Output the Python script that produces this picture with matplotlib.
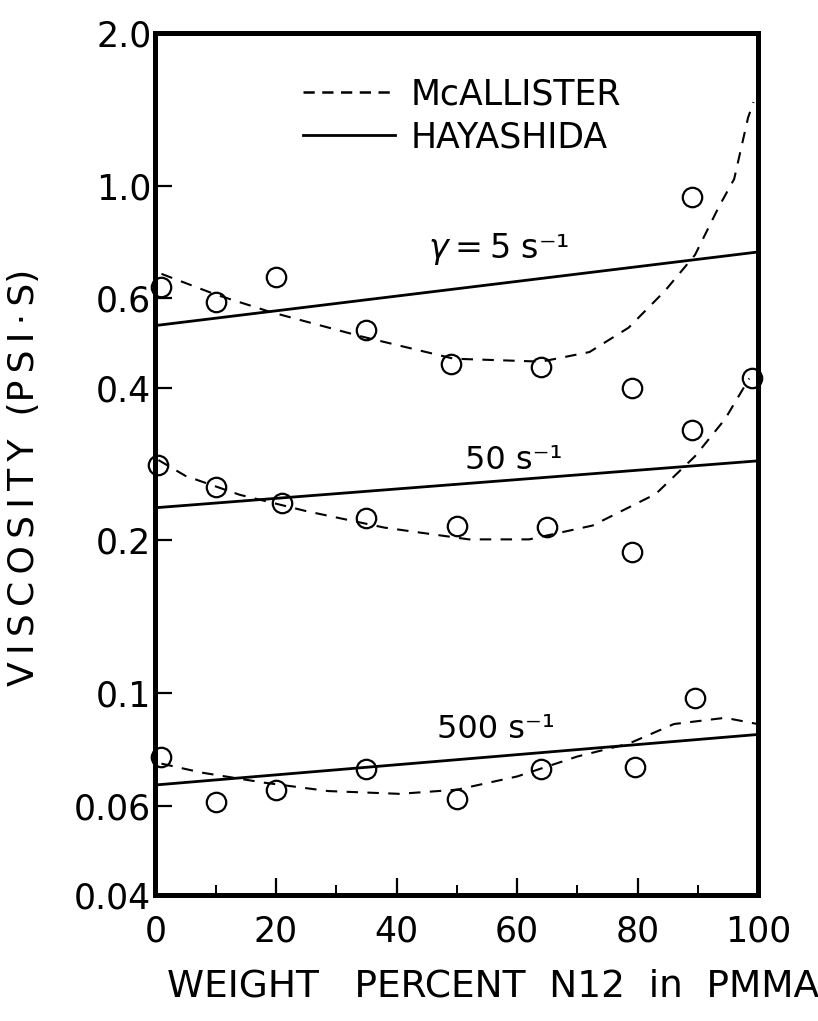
#===============================================================================
# viscosity of N12/PMMA blends vs composition, three shear rates
# circles = measured, dashed = McAllister fit, solid = Hayashida
#===============================================================================
import numpy as np
import matplotlib.pyplot as plt
from matplotlib.ticker import FixedLocator, NullLocator
from matplotlib.lines import Line2D

# measured points (weight percent, viscosity psi.s)
x_5 = [1, 10, 20, 35, 49, 64, 79, 89]
y_5 = [0.63, 0.59, 0.66, 0.52, 0.445, 0.44, 0.40, 0.95]
x_50 = [0.5, 10, 21, 35, 50, 65, 79, 89, 99]
y_50 = [0.282, 0.255, 0.237, 0.221, 0.214, 0.213, 0.190, 0.330, 0.417]
x_500 = [1, 10, 20, 35, 50, 64, 79.5, 89.5]
y_500 = [0.075, 0.061, 0.0645, 0.071, 0.062, 0.071, 0.0715, 0.098]

# McAllister curves
mc_x_5 = [1, 10, 19, 34, 49.5, 64, 72, 78.5, 84.5, 89.5, 93.5, 96, 98.3, 99.2]
mc_y_5 = [0.67, 0.61, 0.564, 0.505, 0.456, 0.45, 0.47, 0.525, 0.62, 0.73, 0.91, 1.03, 1.36, 1.46]
mc_x_50 = [0.5, 5, 14, 25, 38, 52, 62, 72.5, 83, 89.5, 94.5, 98.5]
mc_y_50 = [0.288, 0.268, 0.246, 0.2285, 0.212, 0.201, 0.201, 0.214, 0.247, 0.293, 0.347, 0.417]
mc_x_500 = [1, 7.7, 18, 28.7, 40.5, 50, 60, 70, 78.5, 86, 94.5, 99.7]
mc_y_500 = [0.0727, 0.0698, 0.0667, 0.0642, 0.0634, 0.0646, 0.0686, 0.0751, 0.0796, 0.087, 0.0895, 0.0871]

# Hayashida lines (straight on the log axis)
hy_x = [0, 100]
hy_y_5 = [0.53, 0.74]
hy_y_50 = [0.232, 0.287]
hy_y_500 = [0.066, 0.083]

y_ticks = [0.04, 0.06, 0.1, 0.2, 0.4, 0.6, 1.0, 2.0]
y_ticklabels = ['0.04', '0.06', '0.1', '0.2', '0.4', '0.6', '1.0', '2.0']
x_ticks = [0, 20, 40, 60, 80, 100]

plt.close('all')
fig = plt.figure(figsize=(8.18, 10.21), dpi=100)
ax = fig.add_axes([0.19, 0.123, 0.737, 0.845])

dash = (5.5, 4.5)
for mx, my in [(mc_x_5, mc_y_5), (mc_x_50, mc_y_50), (mc_x_500, mc_y_500)]:
    ax.plot(mx, my, color='black', lw=1.5, dashes=dash)
for hyv in [hy_y_5, hy_y_50, hy_y_500]:
    ax.plot(hy_x, hyv, color='black', lw=2.0, solid_capstyle='butt')
for px, py in [(x_5, y_5), (x_50, y_50), (x_500, y_500)]:
    ax.plot(px, py, 'o', ms=14, mfc='none', mec='black', mew=1.6, clip_on=False)

th = '\u2009'
sup = 's\u207b\u00b9'
ax.text(57, 0.75, r'$\gamma$' + th + '=' + th + '5 ' + sup, ha='center', va='center', fontsize=24)
ax.text(59.5, 0.287, '50 ' + sup, ha='center', va='center', fontsize=23)
ax.text(56.5, 0.085, '500 ' + sup, ha='center', va='center', fontsize=23)

ax.set_yscale('log')
ax.set_xlim(0, 100)
ax.set_ylim(0.04, 2.0)
ax.yaxis.set_major_locator(FixedLocator(y_ticks))
ax.yaxis.set_minor_locator(NullLocator())
ax.set_yticklabels(y_ticklabels)
ax.set_xticks(x_ticks)
ax.set_xticks(np.arange(10, 100, 20), minor=True)
ax.tick_params(axis='both', which='major', direction='in', length=12, width=1.6,
               labelsize=25, pad=4)
ax.tick_params(axis='x', which='minor', direction='in', length=7, width=1.4)
ax.tick_params(axis='y', which='major', pad=3)
ax.tick_params(axis='x', which='major', pad=14)
for sp in ax.spines.values():
    sp.set_linewidth(3.6)

ax.set_xlabel('WEIGHT   PERCENT  N12  in  PMMA', fontsize=27)
ax.xaxis.set_label_coords(0.56, -0.085)
ax.set_ylabel(th.join('VISCOSITY') + '  (' + th.join('PSI\u00b7S') + ')', fontsize=26)
ax.yaxis.set_label_coords(-0.19, 0.484)

handles = [Line2D([], [], color='black', lw=1.8, dashes=(4.5, 3.0)),
           Line2D([], [], color='black', lw=2.0)]
ax.legend(handles, ['McALLISTER', 'HAYASHIDA'], loc='upper left',
          bbox_to_anchor=(0.245, 0.948), frameon=False, fontsize=25,
          handlelength=2.65, handletextpad=0.45, labelspacing=0.25,
          borderpad=0, borderaxespad=0)

fig.savefig('out.png', dpi=100)
